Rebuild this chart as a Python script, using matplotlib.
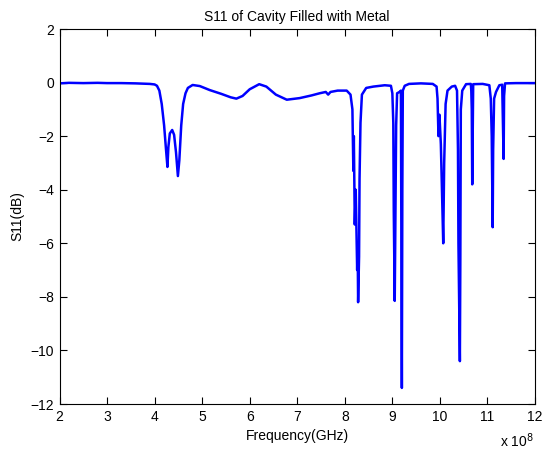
import matplotlib
matplotlib.use('Agg')
import matplotlib.pyplot as plt

# frequency in units of 1e8 Hz, S11 in dB
freq = [2.0, 2.2, 2.5, 2.8, 3.0, 3.3, 3.6, 3.9, 4.0, 4.05, 4.1, 4.15, 4.2, 4.24,
        4.27, 4.29, 4.32, 4.37, 4.41, 4.45, 4.49, 4.52, 4.56, 4.6, 4.65, 4.7,
        4.8, 4.95, 5.16, 5.4, 5.6, 5.72, 5.85, 6.0, 6.2, 6.35, 6.55, 6.78, 7.05,
        7.3, 7.47, 7.6, 7.65, 7.7, 7.85, 8.04, 8.12, 8.16, 8.18, 8.19, 8.21,
        8.23, 8.26, 8.27, 8.28, 8.3, 8.31, 8.33, 8.36, 8.45, 8.6, 8.84, 8.97,
        9.0, 9.02, 9.03, 9.05, 9.06, 9.08, 9.1, 9.15, 9.18, 9.19, 9.2, 9.21,
        9.22, 9.26, 9.35, 9.6, 9.85, 9.93, 9.95, 9.97, 9.99, 10.02, 10.05,
        10.07, 10.09, 10.12, 10.16, 10.25, 10.32, 10.36, 10.38, 10.39, 10.42,
        10.43, 10.44, 10.47, 10.55, 10.65, 10.66, 10.67, 10.68, 10.7, 10.9,
        11.04, 11.07, 11.09, 11.11, 11.12, 11.14, 11.18, 11.25, 11.31, 11.32,
        11.34, 11.35, 11.37, 11.6, 12.0]
s11 = [-0.03, -0.01, -0.02, -0.01, -0.02, -0.02, -0.03, -0.05, -0.07, -0.12,
       -0.3, -0.8, -1.6, -2.5, -3.15, -2.4, -1.9, -1.77, -1.95, -2.6, -3.49,
       -2.9, -1.6, -0.8, -0.4, -0.2, -0.09, -0.13, -0.28, -0.42, -0.55, -0.6,
       -0.5, -0.25, -0.06, -0.15, -0.45, -0.64, -0.58, -0.48, -0.4, -0.35,
       -0.45, -0.35, -0.3, -0.3, -0.45, -1.0, -3.3, -2.0, -5.3, -4.0, -7.0,
       -6.0, -8.2, -6.5, -3.6, -1.5, -0.45, -0.2, -0.15, -0.1, -0.12, -0.4,
       -1.5, -4.8, -8.15, -6.0, -1.6, -0.4, -0.35, -0.3, -6.0, -11.4, -4.0,
       -0.3, -0.12, -0.05, -0.03, -0.05, -0.15, -0.6, -2.0, -1.2, -2.3, -4.5,
       -6.0, -3.0, -0.8, -0.3, -0.15, -0.12, -0.3, -2.5, -6.0, -10.4, -6.5,
       -1.0, -0.3, -0.06, -0.05, -0.3, -1.0, -3.8, -0.06, -0.05, -0.1, -0.6,
       -2.0, -5.4, -2.5, -0.6, -0.35, -0.1, -0.08, -1.0, -2.85, -0.5, -0.03,
       -0.02, -0.02]

xticks = [2, 3, 4, 5, 6, 7, 8, 9, 10, 11, 12]
yticks = [-12, -10, -8, -6, -4, -2, 0, 2]

plt.rcParams['font.family'] = 'Liberation Sans'
fig = plt.figure(figsize=(5.42, 4.55), dpi=100)
ax = fig.add_axes([59.5 / 542, 1 - 404 / 455, 475.5 / 542, 375 / 455])

ax.plot(freq, s11, color='#0000ff', linewidth=1.8)

ax.set_xlim(2, 12)
ax.set_ylim(-12, 2)
ax.set_xticks(xticks)
ax.set_yticks(yticks)
ax.tick_params(direction='in', top=True, right=True, length=5, labelsize=10, pad=4)
for s in ax.spines.values():
    s.set_linewidth(0.8)

ax.set_title('S11 of Cavity Filled with Metal', fontsize=10, pad=6)
ax.set_xlabel('Frequency(GHz)', fontsize=10, labelpad=4)
ax.set_ylabel('S11(dB)', fontsize=10, labelpad=4)
ax.text(0.997, -0.072, r'x 10$^8$', transform=ax.transAxes, ha='right', va='top', fontsize=10)

fig.savefig('out.png', dpi=100)
